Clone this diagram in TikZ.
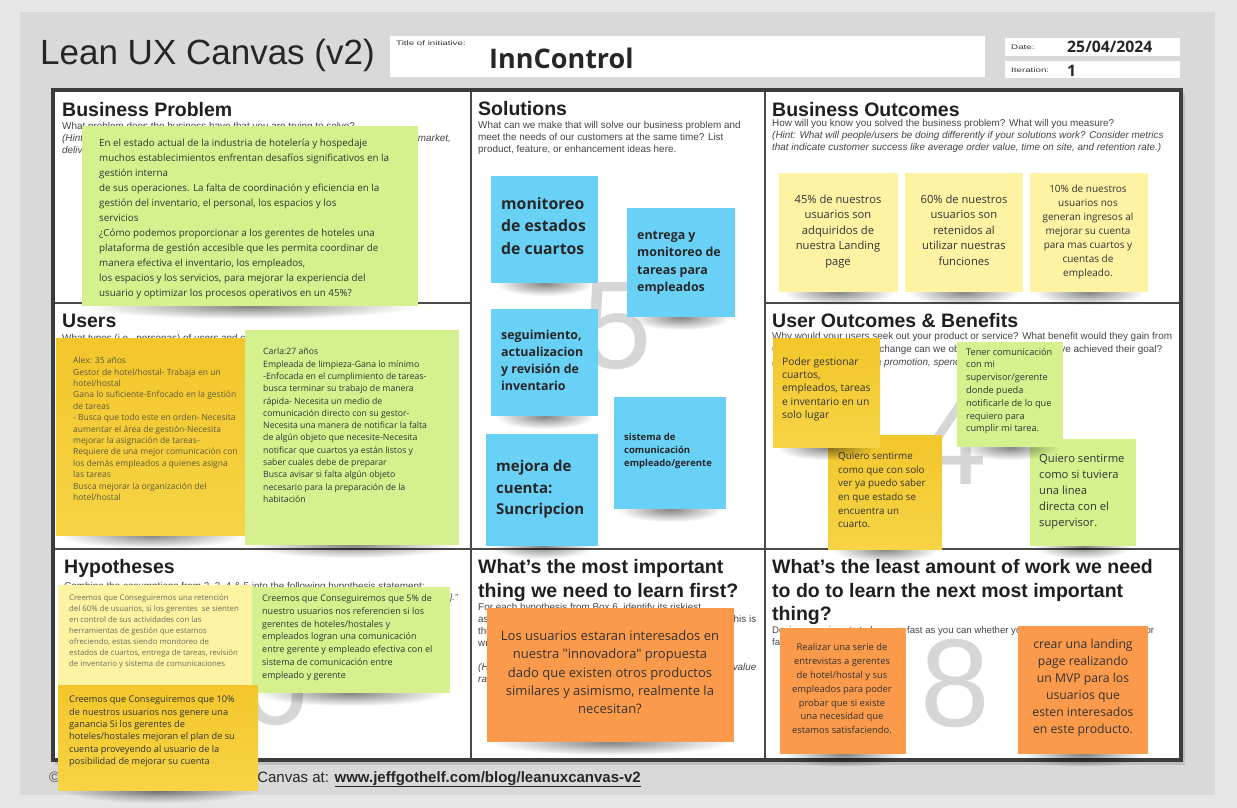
\documentclass[tikz,border=0pt]{standalone}
\usepackage{graphicx}
\usepackage{fontspec}
\setmainfont{Open Sans}[Ligatures=TeXOff]
\newfontfamily\arialfont{Liberation Sans}
\usetikzlibrary{fadings}

\definecolor{backdrop}{HTML}{E6E6E6}
\definecolor{panel}{HTML}{D9D9D9}
\definecolor{frame}{HTML}{3C3C3C}
\definecolor{rule}{HTML}{4A4A4A}
\definecolor{digit}{HTML}{D6D6D6}
\definecolor{lime}{HTML}{D4F18E}
\definecolor{goldtop}{HTML}{F3C62B}
\definecolor{goldbot}{HTML}{F6D445}
\definecolor{cream}{HTML}{FDF3A3}
\definecolor{sky}{HTML}{6AD1F6}
\definecolor{tang}{HTML}{FB9A4B}
\definecolor{ink}{HTML}{333333}
\definecolor{olive}{HTML}{5E5A3C}
\definecolor{pale}{HTML}{6E6C5C}
\definecolor{hintgray}{HTML}{444444}

% soft elliptical shadow under each note
\tikzfading[name=softshadow, inner color=transparent!20, outer color=transparent!100]

\tikzset{
  notebox/.style={rectangle, draw=none, anchor=north west, inner sep=0, outer sep=0},
  noteshadow/.style={fill=black, fill opacity=0.6, path fading=softshadow},
  goldfill/.style={top color=goldtop, bottom color=goldbot},
  memotxt/.style={anchor=north west, inner sep=0, align=left, text=ink},
  memoctr/.style={anchor=north, inner sep=0, align=center, text=ink},
  headtxt/.style={anchor=base west, inner sep=0, text=black!88,
     font=\arialfont\bfseries\fontsize{19.5}{23}\selectfont},
  hinttxt/.style={anchor=base west, inner sep=0, text=hintgray,
     font=\arialfont\fontsize{9.9}{12}\selectfont},
  hintit/.style={hinttxt, font=\arialfont\itshape\fontsize{9.9}{12}\selectfont},
  bignum/.style={inner sep=0, text=digit, font=\arialfont\fontsize{125}{125}\selectfont},
  whitebox/.style={rectangle, fill=white, draw=none, anchor=north west, inner sep=0},
  tinylbl/.style={anchor=west, inner sep=0, text=black!80, font=\arialfont\fontsize{6.5}{7}\selectfont},
}

% wide small-print labels of the header fields
\newcommand{\widelbl}[1]{\scalebox{1.5}[1]{#1}}

% name, fill options, x, y, width, height
\newcommand{\postit}[6]{%
  \begin{scope}[shift={(#3,#4)}]
    \fill[noteshadow] (4,#6-12) rectangle (#5-4,#6+13);
    \node[notebox, #2, minimum width=#5, minimum height=#6] (#1) at (0,0) {};
  \end{scope}}

\begin{document}
\begin{tikzpicture}[x=1pt,y=-1pt]
\useasboundingbox (0,0) rectangle (1237,808);

% background and panel
\fill[backdrop] (0,0) rectangle (1237,808);
\fill[panel] (20,12) rectangle (1215,795);

% header
\node[anchor=base west, inner sep=0, text=black!85, font=\arialfont\fontsize{35}{35}\selectfont] (title) at (40,64) {Lean UX Canvas (v2)};
\node[whitebox, minimum width=595, minimum height=41] (initbox) at (390,36) {};
\node[tinylbl, anchor=north west] (initlbl) at (396,41) {\widelbl{Title of initiative:}};
\node[anchor=west, inner sep=0, text=black!85, font=\bfseries\fontsize{27}{27}\selectfont] (initname) at (489,58) {InnControl};
\node[whitebox, minimum width=175, minimum height=18] (datebox) at (1005,38) {};
\node[whitebox, minimum width=175, minimum height=17] (iterbox) at (1005,61) {};
\node[tinylbl] (datelbl) at (1011,47) {\widelbl{Date:}};
\node[tinylbl] (iterlbl) at (1011,70) {\widelbl{Iteration:}};
\node[anchor=west, inner sep=0, text=black!85, font=\bfseries\fontsize{15.8}{16}\selectfont] (dateval) at (1067,47) {25/04/2024};
\node[anchor=west, inner sep=0, text=black!85, font=\bfseries\fontsize{15.8}{16}\selectfont] (iterval) at (1067,71) {1};

% canvas grid with a light cast shadow
\fill[black, fill opacity=0.12] (55,93) rectangle (1185,765);
\fill[white] (53,90) rectangle (1181,760);
\draw[rule, line width=2.2pt] (471,90) -- (471,760);
\draw[rule, line width=2.2pt] (765,90) -- (765,760);
\draw[rule, line width=2.2pt] (53,303) -- (471,303);
\draw[rule, line width=2.2pt] (765,303) -- (1181,303);
\draw[rule, line width=2.2pt] (53,549) -- (1181,549);
\draw[frame, line width=4.5pt] (53,90) rectangle (1181,760);

% box numbers
\node[bignum] (num5) at (617,326) {5};
\node[bignum] (num4) at (952,441) {4};
\node[bignum] (num8) at (955,683) {8};
\node[bignum] (num6) at (274,681) {6};

% box headings
\node[headtxt] (h1) at (62,116) {Business Problem};
\node[headtxt] (h2) at (62,327) {Users};
\node[headtxt] (h5) at (478,115) {Solutions};
\node[headtxt] (h3) at (772,117) {Business Outcomes};
\node[headtxt] (h4) at (772,327) {User Outcomes \& Benefits};
\node[headtxt] (h6) at (64,573) {Hypotheses};
\node[headtxt] (h7a) at (478,573) {What’s the most important};
\node[headtxt] (h7b) at (478,597) {thing we need to learn first?};
\node[headtxt] (h8a) at (772,573) {What’s the least amount of work we need};
\node[headtxt] (h8b) at (772,597) {to do to learn the next most important};
\node[headtxt] (h8c) at (772,620) {thing?};

% box prompts, kept inside the canvas
\begin{scope}
\clip (56,93) rectangle (1178,757);
\node[hinttxt] (p1a) at (62,129) {What problem does the business have that you are trying to solve?};
\node[hintit] (p1b) at (62,141) {(Hint: Consider your current offerings and how they deliver value, changes in the market,};
\node[hintit] (p1c) at (62,153) {delivery channels, competitive threats and customer behavior.)};
\node[hinttxt] (p2a) at (62,341) {What types (i.e., personas) of users and customers should you focus on first?};
\node[hinttxt] (p3a) at (772,126) {How will you know you solved the business problem? What will you measure?};
\node[hintit] (p3b) at (772,138) {(Hint: What will people/users be doing differently if your solutions work? Consider metrics};
\node[hintit] (p3c) at (772,150) {that indicate customer success like average order value, time on site, and retention rate.)};
\node[hinttxt] (p4a) at (772,339) {Why would your users seek out your product or service? What benefit would they gain from};
\node[hinttxt] (p4b) at (772,352) {using it? What behavior change can we observe that tells us they’ve achieved their goal?};
\node[hintit] (p4c) at (772,365) {(Hint: Save money, get a promotion, spend more time with family)};
\node[hinttxt] (p5a) at (478,128) {What can we make that will solve our business problem and};
\node[hinttxt] (p5b) at (478,140) {meet the needs of our customers at the same time? List};
\node[hinttxt] (p5c) at (478,152) {product, feature, or enhancement ideas here.};
\node[hinttxt] (p6a) at (64,589) {Combine the assumptions from 2, 3, 4 \& 5 into the following hypothesis statement:};
\node[hintit, anchor=base east, font=\arialfont\itshape\fontsize{8.8}{12}\selectfont] (p6b) at (458,600) {“We believe that [business outcome] will be achieved if [user] attains [benefit] with [feature].”};
\node[hinttxt] (p7a) at (478,610) {For each hypothesis from Box 6, identify its riskiest};
\node[hinttxt] (p7b) at (478,622) {assumptions. Then determine the riskiest one right now. This is};
\node[hinttxt] (p7c) at (478,634) {the assumption that will cause the entire idea to fail if it’s};
\node[hinttxt] (p7d) at (478,646) {wrong.};
\node[hintit] (p7e) at (478,670) {(Hint: In the early stages of a hypothesis focus on risks to value};
\node[hintit] (p7f) at (478,682) {rather than feasibility.)};
\node[hinttxt, font=\arialfont\fontsize{9.6}{12}\selectfont] (p8a) at (772,633) {Design experiments to learn as fast as you can whether your riskiest assumption is true or};
\node[hinttxt, font=\arialfont\fontsize{9.6}{12}\selectfont] (p8b) at (772,645) {false.};
\end{scope}

% footer
\node[anchor=base west, inner sep=0, text=black!70, font=\arialfont\fontsize{15}{15}\selectfont] (copy) at (49,782) {©};
\node[anchor=base east, inner sep=0, text=black!85, font=\arialfont\fontsize{15}{15}\selectfont] (foot) at (641,782) {Download the Lean UX Canvas at: \textbf{\underline{www.jeffgothelf.com/blog/leanuxcanvas-v2}}};

% ---- sticky notes ----
% business problem
\postit{bp}{fill=lime}{82}{126}{336}{180}
\node[memotxt, font=\fontsize{9.8}{15}\selectfont] (bptx) at (99,136) {\strut En el estado actual de la industria de hotelería y hospedaje\\ muchos establecimientos enfrentan desafíos significativos en la\\ gestión interna\\ de sus operaciones. La falta de coordinación y eficiencia en la\\ gestión del inventario, el personal, los espacios y los\\ servicios\\ ¿Cómo podemos proporcionar a los gerentes de hoteles una\\ plataforma de gestión accesible que les permita coordinar de\\ manera efectiva el inventario, los empleados,\\ los espacios y los servicios, para mejorar la experiencia del\\ usuario y optimizar los procesos operativos en un 45\%?};

% users
\postit{usa}{goldfill}{56}{338}{191}{197}
\node[memotxt, text=olive, font=\fontsize{8.5}{11.4}\selectfont] (usatx) at (73,355.5) {\strut Alex: 35 años\\ Gestor de hotel/hostal- Trabaja en un\\ hotel/hostal\\ Gana lo suficiente-Enfocado en la gestión\\ de tareas\\ - Busca que todo este en orden- Necesita\\ aumentar el área de gestión-Necesita\\ mejorar la asignación de tareas-\\ Requiere de una mejor comunicación con\\ los demás empleados a quienes asigna\\ las tareas\\ Busca mejorar la organización del\\ hotel/hostal};
\postit{usb}{fill=lime}{245}{330}{214}{215}
\node[memotxt, font=\fontsize{8.7}{12.3}\selectfont] (usbtx) at (263,346) {\strut Carla:27 años\\ Empleada de limpieza-Gana lo mínimo\\ -Enfocada en el cumplimiento de tareas-\\ busca terminar su trabajo de manera\\ rápida- Necesita un medio de\\ comunicación directo con su gestor-\\ Necesita una manera de notificar la falta\\ de algún objeto que necesite-Necesita\\ notificar que cuartos ya están listos y\\ saber cuales debe de preparar\\ Busca avisar si falta algún objeto\\ necesario para la preparación de la\\ habitación};

% solutions
\postit{sa}{fill=sky}{491}{176}{107}{107}
\node[memotxt, text=black!85, font=\bfseries\fontsize{15.8}{22.5}\selectfont] (satx) at (501,193.5) {\strut monitoreo\\ de estados\\ de cuartos};
\postit{sb}{fill=sky}{627}{208}{108}{109}
\node[memotxt, text=black!85, font=\bfseries\fontsize{12.4}{17.5}\selectfont] (sbtx) at (637,227) {\strut entrega y\\ monitoreo de\\ tareas para\\ empleados};
\postit{sc}{fill=sky}{491}{309}{107}{107}
\node[memotxt, text=black!85, font=\bfseries\fontsize{12.4}{17}\selectfont] (sctx) at (501,327) {\strut seguimiento,\\ actualizacion\\ y revisión de\\ inventario};
\postit{sd}{fill=sky}{486}{434}{112}{112}
\node[memotxt, text=black!85, font=\bfseries\fontsize{15}{21.5}\selectfont] (sdtx) at (496,456.5) {\strut mejora de\\ cuenta:\\ Suncripcion};
\postit{se}{fill=sky}{614}{397}{112}{112}
\node[memotxt, text=black!85, font=\bfseries\fontsize{9.5}{13}\selectfont] (setx) at (624,431.5) {\strut sistema de\\ comunicación\\ empleado/gerente};

% business outcomes
\postit{boa}{fill=cream}{779}{173}{119}{119}
\node[memoctr, font=\fontsize{11.2}{15.6}\selectfont] (boatx) at (838,192) {\strut 45\% de nuestros\\ usuarios son\\ adquiridos de\\ nuestra Landing\\ page};
\postit{bob}{fill=cream}{905}{173}{118}{119}
\node[memoctr, font=\fontsize{11.2}{15.6}\selectfont] (bobtx) at (964,192) {\strut 60\% de nuestros\\ usuarios son\\ retenidos al\\ utilizar nuestras\\ funciones};
\postit{boc}{fill=cream}{1030}{173}{118}{119}
\node[memoctr, font=\fontsize{10}{14}\selectfont] (boctx) at (1088,182) {\strut 10\% de nuestros\\ usuarios nos\\ generan ingresos al\\ mejorar su cuenta\\ para mas cuartos y\\ cuentas de\\ empleado.};

% user outcomes
\postit{uob}{goldfill}{828}{435}{114}{114}
\node[memotxt, font=\fontsize{9.8}{13.7}\selectfont] (uobtx) at (838,449.7) {\strut Quiero sentirme\\ como que con solo\\ ver ya puedo saber\\ en que estado se\\ encuentra un\\ cuarto.};
\postit{uoa}{goldfill}{773}{338}{107}{109}
\node[memotxt, font=\fontsize{10.3}{13.4}\selectfont] (uoatx) at (782,355.6) {\strut Poder gestionar\\ cuartos,\\ empleados, tareas\\ e inventario en un\\ solo lugar};
\postit{uod}{fill=lime}{1030}{439}{106}{107}
\node[memotxt, font=\fontsize{11.2}{16}\selectfont] (uodtx) at (1039,451) {\strut Quiero sentirme\\ como si tuviera\\ una linea\\ directa con el\\ supervisor.};
\postit{uoc}{fill=lime}{957}{342}{106}{105}
\node[memotxt, font=\fontsize{9.2}{12.8}\selectfont] (uoctx) at (966,346) {\strut Tener comunicación\\ con mi\\ supervisor/gerente\\ donde pueda\\ notificarle de lo que\\ requiero para\\ cumplir mi tarea.};

% hypotheses
\postit{hya}{fill=cream}{58}{585}{195}{100}
\node[memotxt, text=pale, font=\fontsize{7.8}{11}\selectfont] (hyatx) at (69,592.7) {\strut Creemos que Conseguiremos una retención\\ del 60\% de usuarios, si los gerentes\ \ se sienten\\ en control de sus actividades con las\\ herramientas de gestión que estamos\\ ofreciendo, estas siendo monitoreo de\\ estados de cuartos, entrega de tareas, revisión\\ de inventario y sistema de comunicaciones};
\postit{hyb}{fill=lime}{252}{587}{198}{106}
\node[memotxt, font=\fontsize{9}{12.8}\selectfont] (hybtx) at (262,592.4) {\strut Creemos que Conseguiremos que 5\% de\\ nuestro usuarios nos referencien si los\\ gerentes de hoteles/hostales y\\ empleados logran una comunicación\\ entre gerente y empleado efectiva con el\\ sistema de comunicación entre\\ empleado y gerente};
\postit{hyc}{goldfill}{58}{685}{200}{105}
\node[memotxt, font=\fontsize{9.2}{12.4}\selectfont] (hyctx) at (69,693.8) {\strut Creemos que Conseguiremos que 10\%\\ de nuestros usuarios nos genere una\\ ganancia Si los gerentes de\\ hoteles/hostales mejoran el plan de su\\ cuenta proveyendo al usuario de la\\ posibilidad de mejorar su cuenta};

% riskiest assumption
\postit{lra}{fill=tang}{487}{608}{247}{134}
\node[memoctr, font=\fontsize{13}{18.3}\selectfont] (lratx) at (610,627.4) {\strut Los usuarios estaran interesados en\\ nuestra "innovadora" propuesta\\ dado que existen otros productos\\ similares y asimismo, realmente la\\ necesitan?};

% smallest experiments
\postit{lwa}{fill=tang}{780}{628}{126}{126}
\node[memoctr, font=\fontsize{9.4}{13.8}\selectfont] (lwatx) at (842,641) {\strut Realizar una serie de\\ entrevistas a gerentes\\ de hotel/hostal y sus\\ empleados para poder\\ probar que si existe\\ una necesidad que\\ estamos satisfaciendo.};
\postit{lwb}{fill=tang}{1018}{626}{130}{128}
\node[memoctr, font=\fontsize{12.2}{17}\selectfont] (lwbtx) at (1083,636.4) {\strut crear una landing\\ page realizando\\ un MVP para los\\ usuarios que\\ esten interesados\\ en este producto.};

\end{tikzpicture}
\end{document}
